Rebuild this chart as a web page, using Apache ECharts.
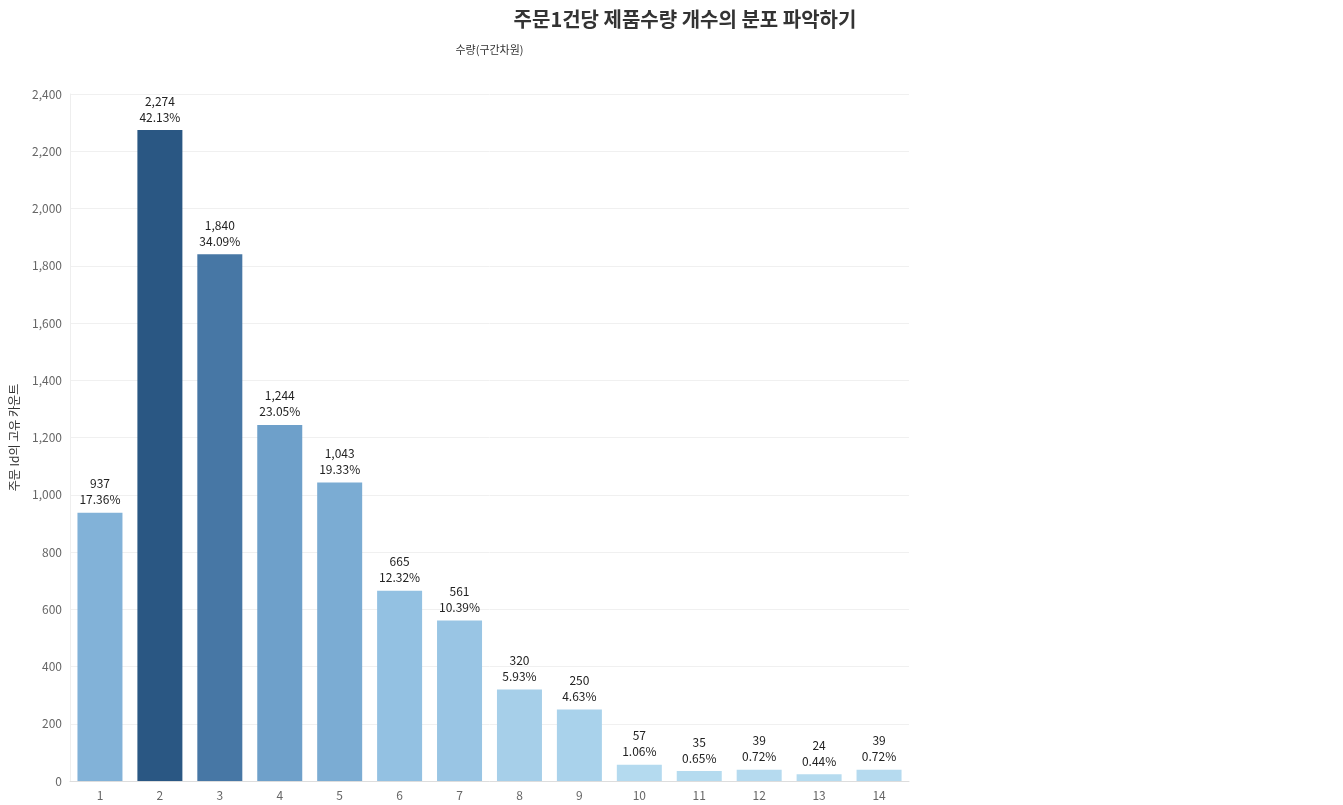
<!DOCTYPE html>
<html><head><meta charset="utf-8">
<script src="https://cdn.jsdelivr.net/npm/echarts@6/dist/echarts.min.js"></script>
<style>body{margin:0}#c{width:1343px;height:805px}</style></head>
<body><div id="c"></div>
<script>
const categories = ['1','2','3','4','5','6','7','8','9','10','11','12','13','14'];
const counts = [937, 2274, 1840, 1244, 1043, 665, 561, 320, 250, 57, 35, 39, 24, 39];
const percents = ['17.36%','42.13%','34.09%','23.05%','19.33%','12.32%','10.39%','5.93%','4.63%','1.06%','0.65%','0.72%','0.44%','0.72%'];

const chart = echarts.init(document.getElementById('c'));
chart.setOption({
  animation: false,
  textStyle: {fontFamily: 'Noto Sans CJK KR'},
  title: {
    text: '주문1건당 제품수량 개수의 분포 파악하기',
    left: 680, top: 4, textAlign: 'center',
    textStyle: {fontSize: 20, fontWeight: 'bold', color: '#333'}
  },
  grid: {left: 69, right: 434, top: 94, bottom: 24},
  visualMap: {
    show: false, min: 0, max: 2274, dimension: 1,
    inRange: {color: ['#b7dcf0', '#8ebde0', '#5c8fbe', '#2a5783']}
  },
  xAxis: {
    type: 'category', data: categories,
    name: '수량(구간차원)', nameLocation: 'middle', nameGap: -737,
    nameTextStyle: {fontSize: 11, color: '#333', padding: [0, 0, 0, 0]},
    axisTick: {show: false},
    axisLine: {lineStyle: {color: '#ddd'}},
    axisLabel: {color: '#666', fontSize: 12}
  },
  yAxis: {
    type: 'value', min: 0, max: 2400, interval: 200,
    name: '주문 Id의 고유 카운트', nameLocation: 'middle', nameGap: 50,
    nameTextStyle: {fontSize: 12, color: '#333'},
    axisLine: {show: true, lineStyle: {color: '#eee'}},
    axisLabel: {color: '#666', fontSize: 12},
    splitLine: {lineStyle: {color: '#f0f0f0'}}
  },
  series: [{
    type: 'bar', barWidth: 45,
    data: counts,
    label: {
      show: true, position: 'top', color: '#222', fontSize: 12, lineHeight: 16,
      formatter: p => p.value.toLocaleString('en-US') + '\n' + percents[p.dataIndex]
    }
  }]
});
</script></body></html>
